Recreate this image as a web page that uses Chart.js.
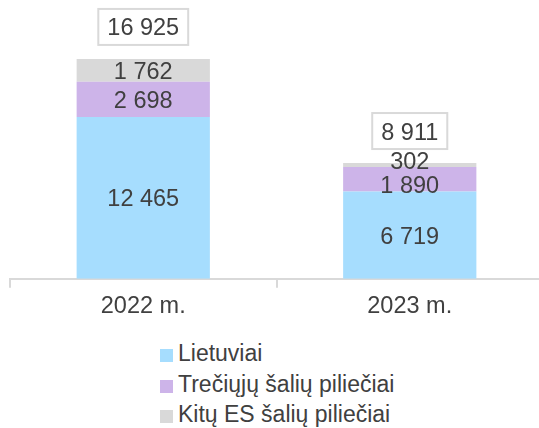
<!DOCTYPE html>
<html>
<head>
<meta charset="utf-8">
<script src="https://cdn.jsdelivr.net/npm/chart.js@4/dist/chart.umd.min.js"></script>
<style>
  html, body { margin: 0; padding: 0; background: #fff; overflow: hidden; }
  body { width: 539px; height: 428px; position: relative; font-family: "Liberation Sans", Arial, sans-serif; }
  #wrap { position: absolute; left: 0; top: 0; width: 545px; height: 326px; }
  #legend { position: absolute; left: 160px; top: 338px; color: #404040; font-size: 23px; }
  .item { height: 30.5px; line-height: 30.5px; white-space: nowrap; }
  .box { display: inline-block; width: 13px; height: 13px; margin-right: 5px; vertical-align: -1px; }
</style>
</head>
<body>
<div id="wrap"><canvas id="chart"></canvas></div>
<div id="legend"></div>
<script>
const categories = ['2022 m.', '2023 m.'];
const lietuviai = [12465, 6719];
const treciuju = [2698, 1890];
const kituES = [1762, 302];
const totals = [16925, 8911];

const seriesNames = ['Lietuviai', 'Trečiųjų šalių piliečiai', 'Kitų ES šalių piliečiai'];
const seriesColors = ['#a6ddfe', '#cdb4e9', '#d9d9d9'];
const textColor = '#404040';
const font = '"Liberation Sans", Arial, sans-serif';

function fmt(v) {
  return String(v).replace(/\B(?=(\d{3})+(?!\d))/g, ' ');
}

// value labels inside bars, with overlap pushing like Excel does
const labelsPlugin = {
  id: 'barLabels',
  afterDatasetsDraw(chart) {
    const ctx = chart.ctx;
    ctx.save();
    ctx.font = '23.5px ' + font;
    ctx.fillStyle = textColor;
    ctx.textAlign = 'center';
    ctx.textBaseline = 'middle';
    const minGap = 24;
    chart.data.labels.forEach((lab, i) => {
      const items = [];
      chart.data.datasets.forEach((ds, d) => {
        const el = chart.getDatasetMeta(d).data[i];
        items.push({ x: el.x, y: (el.y + el.base) / 2 + 2, text: fmt(ds.data[i]) });
      });
      // items ordered bottom to top
      for (let k = 1; k < items.length; k++) {
        const gap = items[k - 1].y - items[k].y;
        if (gap < minGap) {
          const push = (minGap - gap) / 2;
          items[k - 1].y += push;
          items[k].y -= push;
        }
      }
      items.forEach(it => ctx.fillText(it.text, it.x, it.y));

      // total box above bar
      const x = items[0].x;
      const yTop = chart.scales.y.getPixelForValue(totals[i]);
      const txt = fmt(totals[i]);
      const w = ctx.measureText(txt).width + 18;
      const h = 36;
      const cy = yTop - 32;
      ctx.fillStyle = '#ffffff';
      ctx.fillRect(x - w / 2, cy - h / 2, w, h);
      ctx.strokeStyle = '#d9d9d9';
      ctx.lineWidth = 2;
      ctx.strokeRect(x - w / 2, cy - h / 2, w, h);
      ctx.fillStyle = textColor;
      ctx.fillText(txt, x, cy + 2);
    });
    ctx.restore();
  }
};

const datasets = [lietuviai, treciuju, kituES].map((arr, k) => ({
  label: seriesNames[k],
  data: arr,
  backgroundColor: seriesColors[k],
  borderWidth: 0,
  categoryPercentage: 1,
  barPercentage: 0.5
}));

new Chart(document.getElementById('chart'), {
  type: 'bar',
  data: { labels: categories, datasets: datasets },
  options: {
    responsive: true,
    maintainAspectRatio: false,
    animation: false,
    layout: { padding: { left: 10, right: 2, top: 19, bottom: 0 } },
    plugins: {
      legend: { display: false },
      tooltip: { enabled: false }
    },
    scales: {
      x: {
        stacked: true,
        offset: true,
        grid: {
          offset: true,
          drawOnChartArea: false,
          drawTicks: true,
          tickLength: 9,
          color: '#d9d9d9',
          lineWidth: 2
        },
        border: { color: '#d9d9d9', width: 2 },
        ticks: {
          color: textColor,
          padding: 5,
          font: { size: 23.5, family: font }
        }
      },
      y: {
        stacked: true,
        display: false,
        min: 0,
        max: 20000
      }
    }
  },
  plugins: [labelsPlugin]
});

// legend
const legendEl = document.getElementById('legend');
seriesNames.forEach((name, k) => {
  const row = document.createElement('div');
  row.className = 'item';
  row.innerHTML = '<span class="box" style="background:' + seriesColors[k] + '"></span>' + name;
  legendEl.appendChild(row);
});
</script>
</body>
</html>
